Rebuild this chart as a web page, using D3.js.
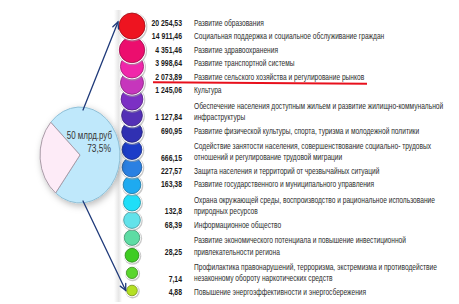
<!DOCTYPE html>
<html><head><meta charset="utf-8">
<script src="https://cdn.jsdelivr.net/npm/d3@7/dist/d3.min.js"></script>
<style>
html,body{margin:0;padding:0;background:#fff;}
svg{display:block;}
.lab{font-family:"Liberation Sans",Arial,sans-serif;font-size:8.4px;fill:#2b2b2b;}
.num{font-family:"Liberation Sans",Arial,sans-serif;font-size:8.6px;font-weight:bold;fill:#1a1a1a;}
.pie-t{font-family:"Liberation Sans",Arial,sans-serif;font-size:10.5px;fill:#333;}
</style></head>
<body>
<script>
// ---- data ----
const valueLabels = ["20 254,53","14 911,46","4 351,46","3 998,64","2 073,89","1 245,06","1 127,84","690,95","666,15","227,57","163,38","132,8","68,39","28,25","7,14","4,88"];
const values = [20254.53,14911.46,4351.46,3998.64,2073.89,1245.06,1127.84,690.95,666.15,227.57,163.38,132.8,68.39,28.25,7.14,4.88];
const programs = [
  ["Развитие образования"],
  ["Социальная поддержка и социальное обслуживание граждан"],
  ["Развитие здравоохранения"],
  ["Развитие транспортной системы"],
  ["Развитие сельского хозяйства и регулирование рынков"],
  ["Культура"],
  ["Обеспечение населения доступным жильем и развитие жилищно-коммунальной","инфраструктуры"],
  ["Развитие физической культуры, спорта, туризма и молодежной политики"],
  ["Содействие занятости населения, совершенствование социально- трудовых","отношений и регулирование трудовой миграции"],
  ["Защита населения и территорий от чрезвычайных ситуаций"],
  ["Развитие государственного и муниципального управления"],
  ["Охрана окружающей среды, воспроизводство и рациональное использование","природных ресурсов"],
  ["Информационное общество"],
  ["Развитие экономического потенциала и повышение инвестиционной","привлекательности региона"],
  ["Профилактика правонарушений, терроризма, экстремизма и противодействие","незаконному обороту наркотических средств"],
  ["Повышение энергоэффективности и энергосбережения"]
];
const circleColors = ["#ee1420","#ec0e6e","#f026aa","#c636bc","#7c30c4","#5430b6","#3030b2","#1c3cc8","#2a80e2","#1eaaf0","#20def8","#62e2ea","#5edca4","#3ecc22","#5ad62e","#b4e024"];
const pieLabels = ["50 млрд.руб","73,5%"];
const pieShares = [73.5, 26.5];
const pieColors = ["#bfe8fb","#fdebf7"];

// ---- layout ----
const W = 459, H = 304;
const svg = d3.select("body").append("svg").attr("width", W).attr("height", H);
const defs = svg.append("defs");

const sh = defs.append("filter").attr("id","sh").attr("x","-30%").attr("y","-30%").attr("width","160%").attr("height","160%");
sh.append("feDropShadow").attr("dx",1.5).attr("dy",2).attr("stdDeviation",3).attr("flood-color","#000").attr("flood-opacity",0.28);

const band = defs.append("linearGradient").attr("id","band");
band.append("stop").attr("offset","0").attr("stop-color","#fff");
band.append("stop").attr("offset","0.6").attr("stop-color","#e6e6e6");
band.append("stop").attr("offset","1").attr("stop-color","#fff");

// condensed text helper
function ctext(parent, cls, x, y, txt, anchor, sx){
  return parent.append("text").attr("class",cls)
    .attr("transform",`translate(${x},${y}) scale(${sx},1)`)
    .attr("dy","0.35em").attr("text-anchor",anchor).text(txt);
}

// line index per item (number sits on the last line of each label)
let cursor = -1;
const lastLine = programs.map(p => (cursor += p.length));
const yLine = d3.scaleLinear().domain([0, 20]).range([23, 292]);
const lineGap = 11.5;

// circles
const yCircle = d3.scaleLinear().domain([0, 1, 6, 15]).range([26, 50, 132, 290.5]);
const rScale = d3.scaleLog().domain([d3.min(values), d3.max(values)]).range([5.3, 13]);
const cx = 132;

svg.append("rect").attr("x",114).attr("y",10).attr("width",8).attr("height",H-12).attr("fill","url(#band)");

const idx = d3.range(values.length).reverse();
const cg = svg.append("g");
idx.forEach(i => {
  const r = rScale(values[i]), cy = yCircle(i);
  cg.append("circle").attr("cx",cx+0.6).attr("cy",cy+0.8).attr("r",r+1.8).attr("fill","#9a9a9a").attr("opacity",0.55);
  cg.append("circle").attr("cx",cx).attr("cy",cy).attr("r",r+1.3).attr("fill","#ffffff");
  cg.append("circle").attr("cx",cx).attr("cy",cy).attr("r",r)
    .attr("fill",circleColors[i])
    .attr("stroke",d3.color(circleColors[i]).darker(1.2)).attr("stroke-width",0.8);
});

// numbers and labels
const tg = svg.append("g");
programs.forEach((lines, i) => {
  const yl = yLine(lastLine[i]);
  ctext(tg, "num", 182, yl, valueLabels[i], "end", 0.8);
  lines.forEach((t, j) => {
    ctext(tg, "lab", 194, yl - (lines.length - 1 - j) * lineGap, t, "start", 0.79);
  });
});

// red underline under agriculture
const yAgr = yLine(lastLine[4]);
svg.append("line").attr("x1",153).attr("y1",yAgr+5.5).attr("x2",367).attr("y2",yAgr+7)
  .attr("stroke","#e8101c").attr("stroke-width",2);

// pie (slightly tall ellipse)
const pcx = 80, pcy = 155, pr = 40, sy = 1.2;
const pie = d3.pie().sort(null).startAngle(-47 * Math.PI/180).endAngle(313 * Math.PI/180);
const arc = d3.arc().innerRadius(0).outerRadius(pr);
const pg = svg.append("g").attr("transform",`translate(${pcx},${pcy}) scale(1,${sy})`).attr("filter","url(#sh)");
pg.selectAll("path").data(pie(pieShares)).join("path")
  .attr("d",arc).attr("fill",(d,i)=>pieColors[i])
  .attr("stroke",(d,i)=> i===0 ? "#8fbfd6" : "#a89aa6").attr("stroke-width",1)
  .attr("vector-effect","non-scaling-stroke");
ctext(svg, "pie-t", 112, 135, pieLabels[0], "end", 0.76);
ctext(svg, "pie-t", 111, 148, pieLabels[1], "end", 0.8);

// arrows
function arrow(x1,y1,x2,y2){
  const g = svg.append("g").attr("stroke","#1f3a7a").attr("stroke-width",1.3).attr("fill","none").attr("stroke-linecap","round");
  g.append("line").attr("x1",x1).attr("y1",y1).attr("x2",x2).attr("y2",y2);
  const a = Math.atan2(y2-y1, x2-x1), L = 7, s = 0.45;
  g.append("path").attr("d",`M${x2-L*Math.cos(a-s)},${y2-L*Math.sin(a-s)}L${x2},${y2}L${x2-L*Math.cos(a+s)},${y2-L*Math.sin(a+s)}`);
}
const r0 = rScale(values[0]), rN = rScale(values[values.length-1]);
arrow(83, pcy - pr*sy + 3, cx - r0 - 1, yCircle(0) - 4);
arrow(83, pcy + pr*sy - 2, cx - rN - 1, yCircle(values.length-1));
</script>
</body></html>
